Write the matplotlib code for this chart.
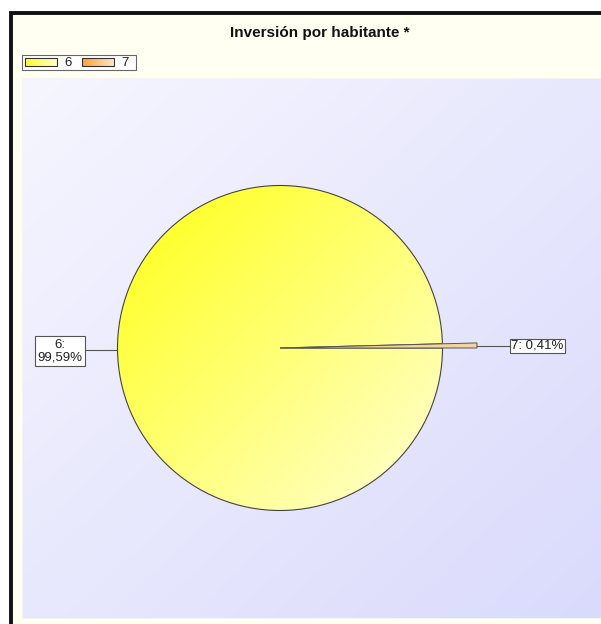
import matplotlib
matplotlib.use("Agg")
import matplotlib.pyplot as plt
import matplotlib.patches as mpatches
import numpy as np

plt.rcParams['font.family'] = ['Liberation Sans', 'DejaVu Sans']

title = "Inversión por habitante *"
labels = ['6', '7']
values = [99.59, 0.41]
value_text = ['99,59%', '0,41%']

W, H = 601, 624
fig = plt.figure(figsize=(W / 100, H / 100), dpi=100)
ax = fig.add_axes([0, 0, 1, 1])
ax.set_xlim(0, W)
ax.set_ylim(0, H)
ax.axis('off')


def py(y):
    # pixel row from top -> data y
    return H - y


def grad(c0, c1, n=200, diagonal=True):
    c0 = np.array(c0) / 255.0
    c1 = np.array(c1) / 255.0
    xx, yy = np.meshgrid(np.linspace(0, 1, n), np.linspace(0, 1, n))
    t = (xx + yy) / 2 if diagonal else xx
    return c0 + (c1 - c0) * t[..., None]


# outer frame
ax.add_patch(mpatches.Rectangle((11, -5), W, py(13) + 5, facecolor='#FFFFF2',
                                edgecolor='#111111', lw=2.8, zorder=1))

# plot area gradient
ax.imshow(grad((246, 246, 255), (218, 218, 252)), extent=(22, W, py(618), py(78)),
          origin='upper', zorder=2, aspect='auto')
ax.add_patch(mpatches.Rectangle((22, py(618)), W - 22, 540, fill=False,
                                edgecolor='#F4F4F4', lw=0.8, zorder=3))

ax.text(320, py(33), title, ha='center', va='center', fontsize=11,
        fontweight='bold', color='#111111', zorder=5)

# legend
ax.add_patch(mpatches.Rectangle((22, py(70)), 114, 15, facecolor='white',
                                edgecolor='#666666', lw=0.8, zorder=4))
sw_cols = [((255, 255, 40), (255, 255, 200)), ((255, 160, 50), (255, 230, 200))]
sw_x = [25, 82]
for lab, (c0, c1), x0 in zip(labels, sw_cols, sw_x):
    ax.imshow(grad(c0, c1, diagonal=False), extent=(x0, x0 + 32, py(66), py(58)),
              origin='upper', zorder=5, aspect='auto')
    ax.add_patch(mpatches.Rectangle((x0, py(66)), 32, 8, fill=False,
                                    edgecolor='#333333', lw=0.8, zorder=6))
    ax.text(x0 + 43, py(62.5), lab, ha='center', va='center', fontsize=9.5,
            color='#222222', zorder=6)

# pie
cx, cy, r = 280, py(348), 162.5
wedges, _ = ax.pie(values, startangle=0, counterclock=False, center=(cx, cy),
                   radius=r, frame=True,
                   wedgeprops=dict(edgecolor='#444444', linewidth=0.8))
ax.axis('off')
for w in wedges:
    w.set_zorder(7)

wedges[0].set_facecolor('none')
pie_img = ax.imshow(grad((255, 255, 20), (255, 255, 215)),
                    extent=(cx - r, cx + r, cy - r, cy + r), origin='upper',
                    zorder=6.5, aspect='auto')
pie_img.set_clip_path(wedges[0])

wedges[1].set_radius(197)
wedges[1].set_facecolor('#F3D49C')
wedges[1].set_edgecolor('#555555')
wedges[1].set_linewidth(0.7)
wedges[1].set_zorder(8)
ax.set_aspect('equal')
ax.set_xlim(0, W)
ax.set_ylim(0, H)

# labels with leader lines
ax.plot([84, 117], [py(350), py(350)], color='#555555', lw=0.8, zorder=8)
ax.text(60, py(351), labels[0] + ':\n' + value_text[0], ha='center', va='center',
        fontsize=9.5, linespacing=1.0, color='#222222', zorder=9,
        bbox=dict(boxstyle='square,pad=0.22', facecolor='white',
                  edgecolor='#555555', lw=0.8))
ax.plot([477, 509], [py(346), py(346)], color='#555555', lw=0.8, zorder=8)
ax.text(537.5, py(346), labels[1] + ': ' + value_text[1], ha='center', va='center',
        fontsize=9.5, color='#222222', zorder=9,
        bbox=dict(boxstyle='square,pad=0.1', facecolor='white',
                  edgecolor='#555555', lw=0.8))

fig.savefig('out.png', dpi=100)
